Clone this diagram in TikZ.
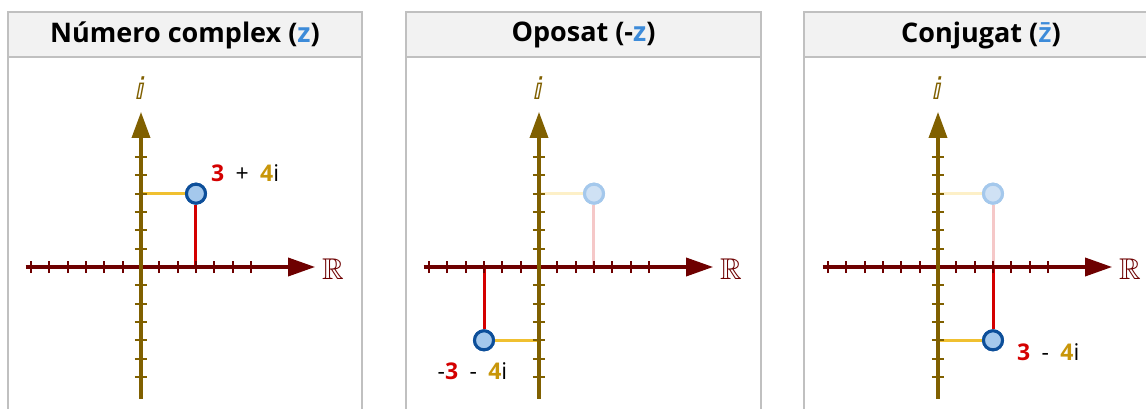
\documentclass[tikz,border=0pt]{standalone}
\usepackage{fontspec}
\usepackage{amssymb}
\setmainfont{Open Sans}
\newfontfamily\symbfont{DejaVu Sans}
\newfontfamily\barfont{Lato}
\newfontfamily\valfont[WordSpace=1.9]{Open Sans}
\usetikzlibrary{arrows.meta}
\definecolor{axisre}{HTML}{6E0000}
\definecolor{axisim}{HTML}{806000}
\definecolor{partre}{HTML}{D40000}
\definecolor{partim}{HTML}{F0C030}
\definecolor{numim}{HTML}{C8960A}
\definecolor{zblue}{HTML}{3D8BD9}
\definecolor{ptfill}{HTML}{A4C8EC}
\definecolor{ptdraw}{HTML}{0D4F9A}
\definecolor{ghostfill}{HTML}{CFE1F4}
\definecolor{ghostdraw}{HTML}{A4C8EC}
\definecolor{ghostre}{HTML}{F5C8C8}
\definecolor{ghostim}{HTML}{FDF0C8}
\definecolor{panelgray}{HTML}{C0C0C0}
\definecolor{headfill}{HTML}{F2F2F2}

\begin{document}
\begin{tikzpicture}[x=1pt, y=1pt,
    panel/.style={draw=panelgray, line width=1.5pt, fill=white},
    header/.style={draw=panelgray, line width=1.5pt, fill=headfill},
    title/.style={font=\fontsize{27}{30}\selectfont\bfseries},
    reaxis/.style={-{Triangle[length=27pt,width=18pt]},
                   line width=3.5pt, color=axisre},
    imaxis/.style={-{Triangle[length=26pt,width=18pt]},
                   line width=3.5pt, color=axisim},
    retick/.style={line width=1.8pt, color=axisre},
    imtick/.style={line width=1.8pt, color=axisim},
    reline/.style={line width=3pt, color=partre},
    imline/.style={line width=3pt, color=partim},
    ghostreline/.style={line width=3pt, color=ghostre},
    ghostimline/.style={line width=3pt, color=ghostim},
    point/.style={circle, draw=ptdraw, fill=ptfill, line width=3pt,
                  minimum size=19pt, inner sep=0pt},
    ghost/.style={circle, draw=ghostdraw, fill=ghostfill, line width=3pt,
                  minimum size=19pt, inner sep=0pt},
    relbl/.style={font=\fontsize{30}{32}\selectfont, color=axisre},
    imlbl/.style={font=\symbfont\fontsize{30}{32}\selectfont, color=axisim},
    val/.style={font=\valfont\fontsize{23}{26}\selectfont, inner sep=0pt}]

    \clip (0,0) rectangle (1146,409);
    \fill[white] (0,0) rectangle (1146,409);

    % Panels
    \draw[panel]  (8,-10)   rectangle (362,397);
    \draw[header] (8,352)   rectangle (362,397);
    \draw[panel]  (406,-10) rectangle (761,397);
    \draw[header] (406,352) rectangle (761,397);
    \draw[panel]  (804,-10) rectangle (1158,397);
    \draw[header] (804,352) rectangle (1158,397);

    % Titles
    \node[title] (t1) at (185,374)   {Número complex (\textcolor{zblue}{z})};
    \node[title] (t2) at (583.5,374) {Oposat (-\textcolor{zblue}{z})};
    \node[title] (t3) at (981,374)
        {Conjugat (\textcolor{zblue}{\barfont\fontsize{29}{30}\selectfont\bfseries \={z}})};

    % Complex number
    \begin{scope}[shift={(141,142)}, x=18.33pt, y=18.33pt]
        \coordinate (ao) at (0,0);
        \coordinate (ax) at (3,0);
        \coordinate (ay) at (0,4);
        \coordinate (axl) at (-6.3,0);
        \coordinate (axr) at (9.5,0);
        \coordinate (ayb) at (0,-7.2);
        \coordinate (ayt) at (0,8.46);
        \node[point] (ap) at (3,4) {};

        \draw[reline] (ax) -- (ap);
        \draw[imline] (ay) -- (ap);

        \draw[reaxis] (axl) -- (axr);
        \foreach \k in {-6,...,-1,1,2,...,6}
            \draw[retick] (\k,-0.33) -- (\k,0.33);
        \draw[imaxis] (ayb) -- (ayt);
        \foreach \k in {-6,...,-1,1,2,...,6}
            \draw[imtick] (-0.33,\k) -- (0.33,\k);
        \node[point] at (ap) {};

        \node[relbl] (aR) at (10.47,-0.12) {$\mathbb{R}$};
        \node[imlbl] (aI) at (0,9.77) {ⅈ};
        \node[val, anchor=west] (av) at (3.82,5.13)
            {\textcolor{partre}{\bfseries 3} + \textcolor{numim}{\bfseries 4}i};
    \end{scope}

    % Opposite
    \begin{scope}[shift={(539,142)}, x=18.33pt, y=18.33pt]
        \coordinate (bo) at (0,0);
        \coordinate (bgx) at (3,0);
        \coordinate (bgy) at (0,4);
        \coordinate (bx) at (-3,0);
        \coordinate (by) at (0,-4);
        \coordinate (bxl) at (-6.3,0);
        \coordinate (bxr) at (9.5,0);
        \coordinate (byb) at (0,-7.2);
        \coordinate (byt) at (0,8.46);
        \node[ghost] (bg) at (3,4) {};
        \node[point] (bp) at (-3,-4) {};

        \draw[ghostreline] (bgx) -- (bg);
        \draw[ghostimline] (bgy) -- (bg);
        \draw[reline] (bx) -- (bp);
        \draw[imline] (by) -- (bp);

        \draw[reaxis] (bxl) -- (bxr);
        \foreach \k in {-6,...,-1,1,2,...,6}
            \draw[retick] (\k,-0.33) -- (\k,0.33);
        \draw[imaxis] (byb) -- (byt);
        \foreach \k in {-6,...,-1,1,2,...,6}
            \draw[imtick] (-0.33,\k) -- (0.33,\k);
        \node[ghost] at (bg) {};
        \node[point] at (bp) {};

        \node[relbl] (bR) at (10.47,-0.12) {$\mathbb{R}$};
        \node[imlbl] (bI) at (0,9.77) {ⅈ};
        \node[val] (bv) at (-3.63,-5.67)
            {-\textcolor{partre}{\bfseries 3} - \textcolor{numim}{\bfseries 4}i};
    \end{scope}

    % Conjugate
    \begin{scope}[shift={(938,142)}, x=18.33pt, y=18.33pt]
        \coordinate (co) at (0,0);
        \coordinate (cgx) at (3,0);
        \coordinate (cgy) at (0,4);
        \coordinate (cx) at (3,0);
        \coordinate (cy) at (0,-4);
        \coordinate (cxl) at (-6.3,0);
        \coordinate (cxr) at (9.5,0);
        \coordinate (cyb) at (0,-7.2);
        \coordinate (cyt) at (0,8.46);
        \node[ghost] (cg) at (3,4) {};
        \node[point] (cp) at (3,-4) {};

        \draw[ghostreline] (cgx) -- (cg);
        \draw[ghostimline] (cgy) -- (cg);
        \draw[reline] (cx) -- (cp);
        \draw[imline] (cy) -- (cp);

        \draw[reaxis] (cxl) -- (cxr);
        \foreach \k in {-6,...,-1,1,2,...,6}
            \draw[retick] (\k,-0.33) -- (\k,0.33);
        \draw[imaxis] (cyb) -- (cyt);
        \foreach \k in {-6,...,-1,1,2,...,6}
            \draw[imtick] (-0.33,\k) -- (0.33,\k);
        \node[ghost] at (cg) {};
        \node[point] at (cp) {};

        \node[relbl] (cR) at (10.47,-0.12) {$\mathbb{R}$};
        \node[imlbl] (cI) at (0,9.77) {ⅈ};
        \node[val, anchor=west] (cv) at (4.31,-4.64)
            {\textcolor{partre}{\bfseries 3} - \textcolor{numim}{\bfseries 4}i};
    \end{scope}
\end{tikzpicture}
\end{document}
